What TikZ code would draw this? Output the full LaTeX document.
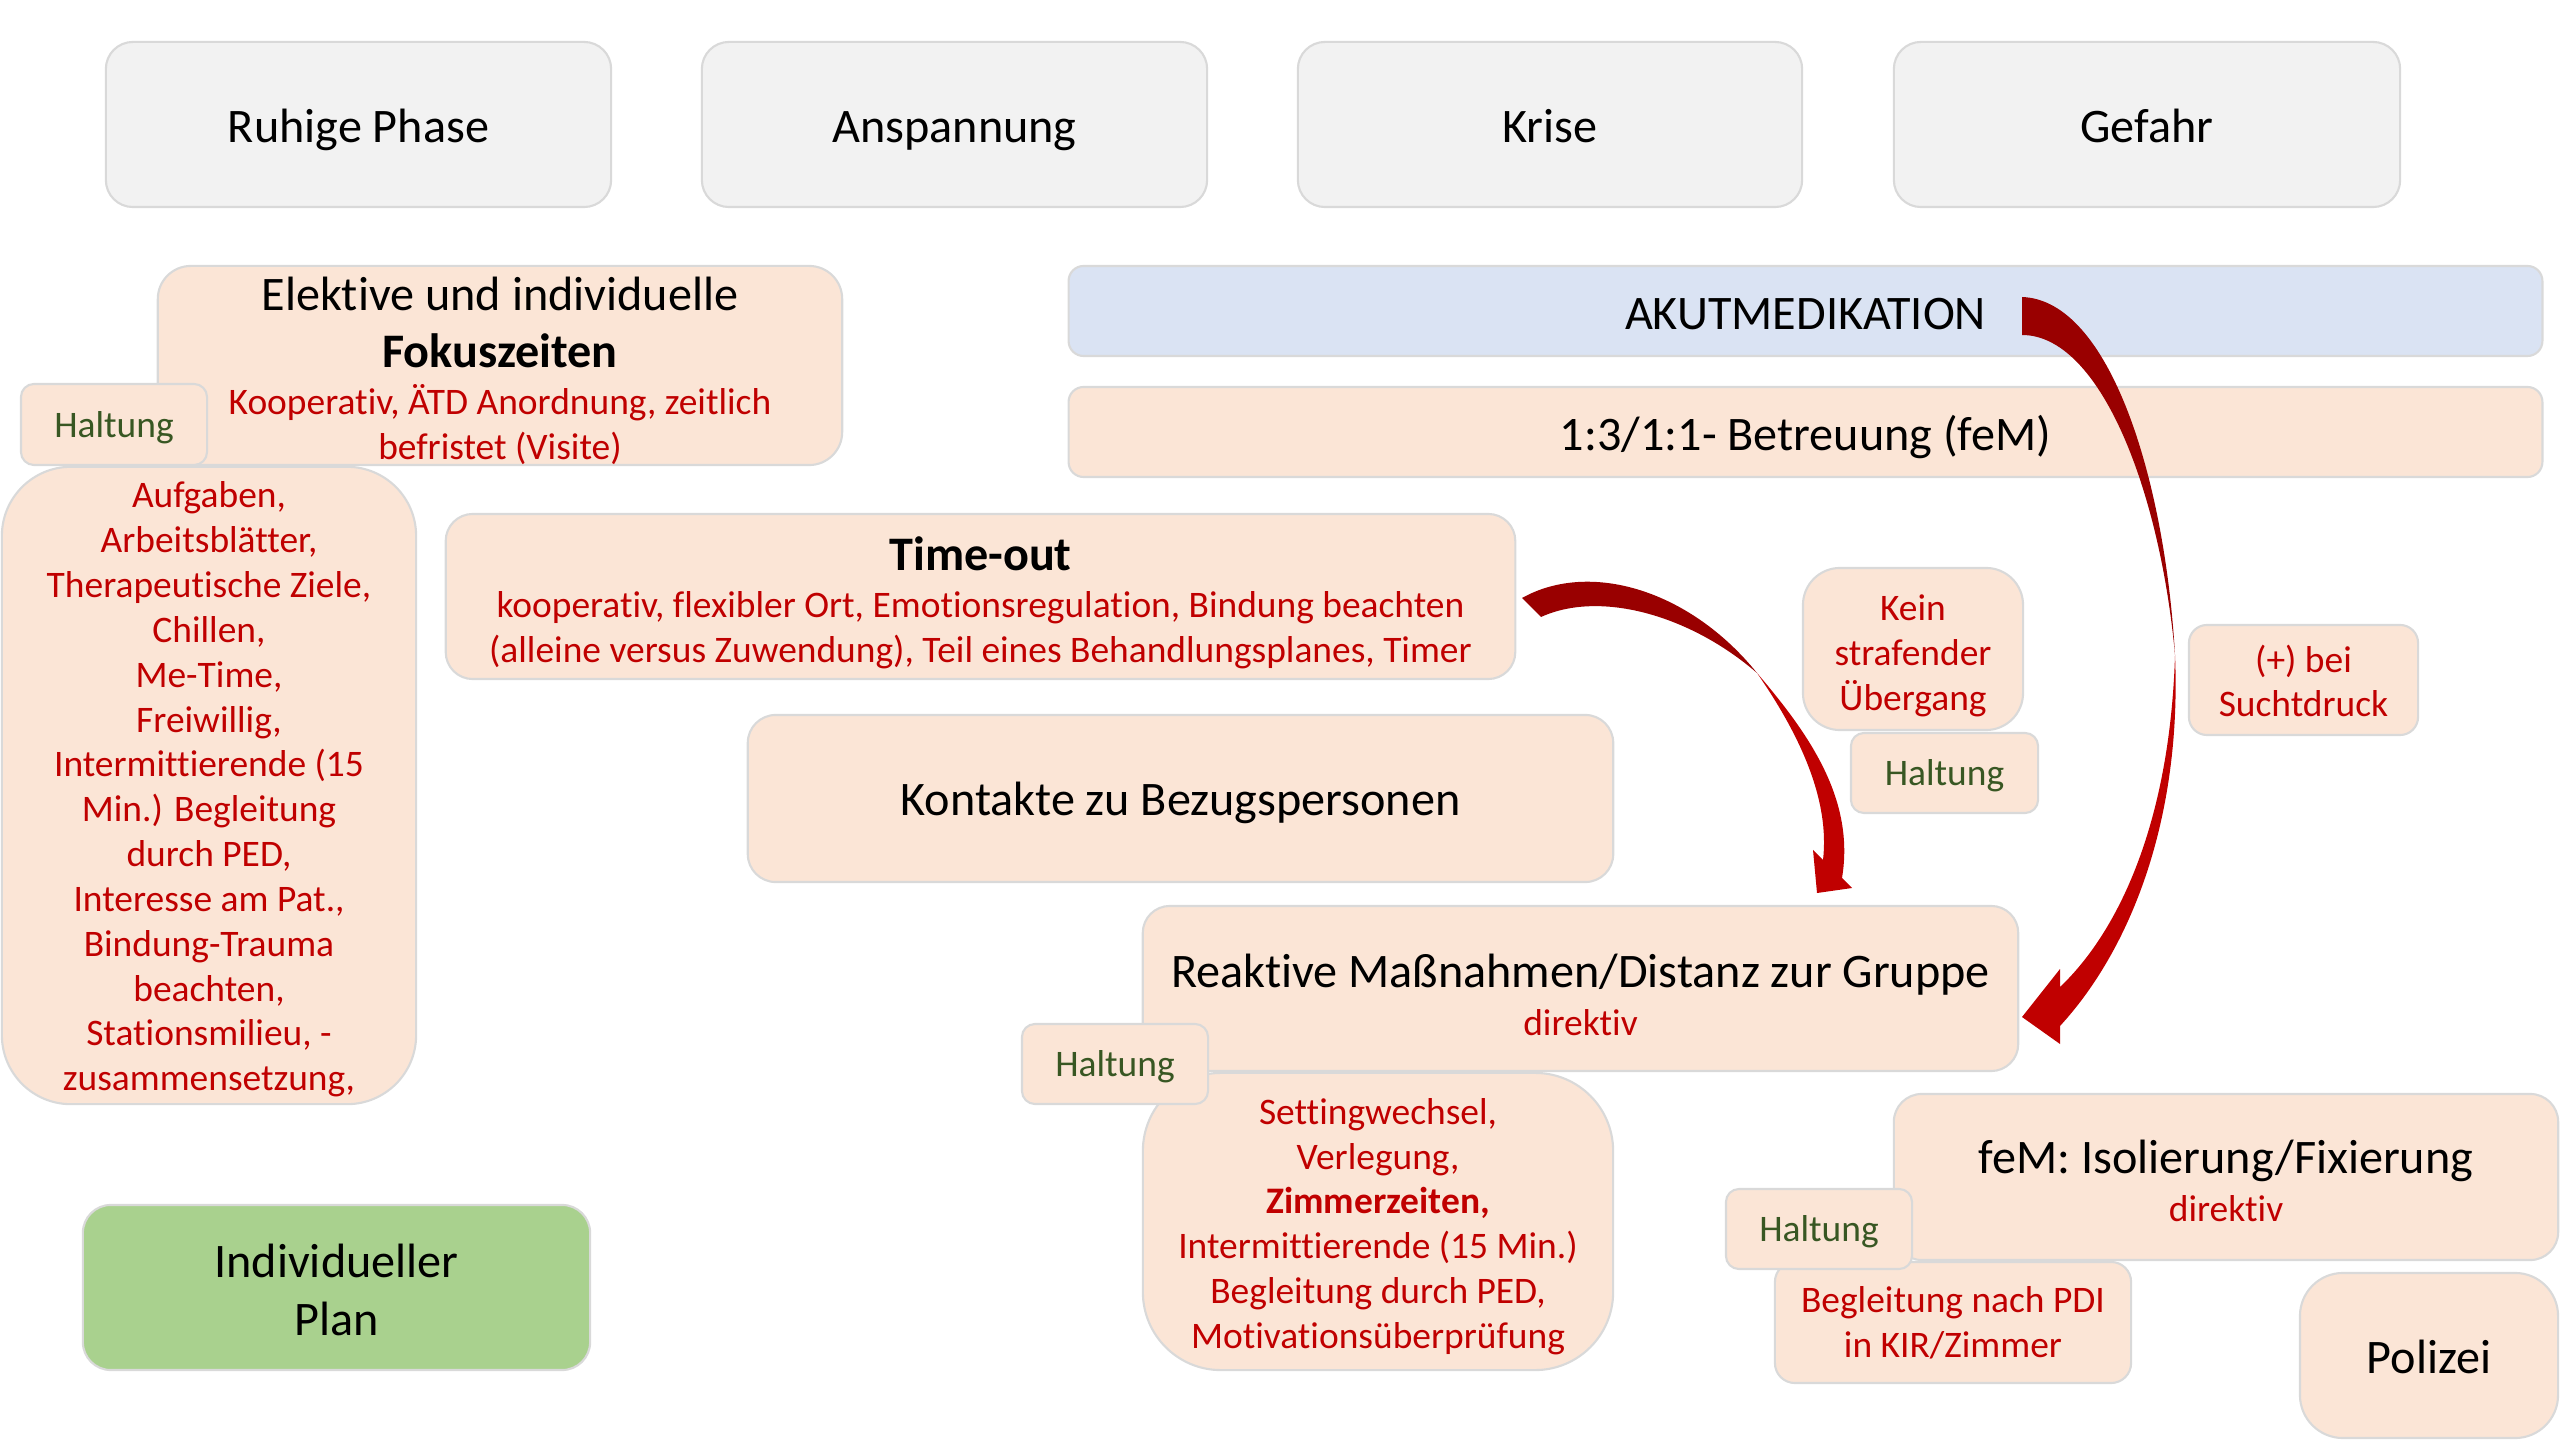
\documentclass[tikz,border=0pt]{standalone}
\usepackage{fontspec}
\setmainfont{Carlito}[Ligatures=NoCommon]
\definecolor{peach}{HTML}{FBE5D6}
\definecolor{grayfill}{HTML}{F2F2F2}
\definecolor{bord}{HTML}{D9D9D9}
\definecolor{bluefill}{HTML}{DAE3F3}
\definecolor{greenfill}{HTML}{A9D18E}
\definecolor{redtxt}{HTML}{C00000}
\definecolor{greentxt}{HTML}{385723}
\definecolor{arrdark}{HTML}{990000}
\definecolor{arrred}{HTML}{C00000}
\newcommand\Lg{\fontsize{13.7}{16.3}\selectfont}
\newcommand\Sm{\fontsize{10.65}{12.75}\selectfont}
% box node (name) plus its text node (name-t), text shifted down by #8 px
\newcommand\pbox[9]{%
  \pgfmathsetmacro\pcx{(#2+#4)/2}%
  \pgfmathsetmacro\pcy{(#3+#5)/2}%
  \pgfmathsetmacro\pw{(#4-#2)/100}%
  \pgfmathsetmacro\ph{(#5-#3)/100}%
  \node[#6, minimum width=\pw cm, minimum height=\ph cm] (#1) at (\pcx,\pcy) {};
  \node[inner sep=0pt, align=center, #7] (#1-t) at ([yshift=-#8*0.01cm]#1.center) {#9};}
\tikzset{
  basebox/.style={draw=bord, line width=0.6pt, inner sep=0pt},
  phase/.style={basebox, fill=grayfill, rounded corners=0.27cm},
  peachbox/.style={basebox, fill=peach},
  bluebox/.style={basebox, fill=bluefill},
  greenbox/.style={basebox, fill=greenfill},
  lgone/.style={font=\Lg, text height=10.3pt, text depth=3.4pt},
  lgtxt/.style={font=\Lg},
  mixtxt/.style={font=\Sm},
  redsm/.style={font=\Sm, text=redtxt},
  haltbox/.style={basebox, fill=peach, rounded corners=0.13cm},
  halttxt/.style={font=\Sm, text=greentxt, text height=8pt, text depth=2.7pt},
}
\begin{document}
\begin{tikzpicture}[x=0.01cm, y=-0.01cm]
\useasboundingbox (0,0) rectangle (2560,1440);
% phase headers
\pbox{ruhig}{106}{42}{611}{207}{phase}{lgone}{6}{Ruhige Phase}
\pbox{ansp}{702}{42}{1207}{207}{phase}{lgone}{6}{Anspannung}
\pbox{krise}{1298}{42}{1802}{207}{phase}{lgone}{6}{Krise}
\pbox{gefahr}{1894}{42}{2400}{207}{phase}{lgone}{6}{Gefahr}
% left column
\pbox{elektive}{158}{266}{842}{465}{peachbox, rounded corners=0.33cm}{mixtxt}{5}{%
  {\Lg Elektive und individuelle}\\[3.45pt]
  {\Lg\bfseries Fokuszeiten}\\[0.65pt]
  \textcolor{redtxt}{Kooperativ, ÄTD Anordnung, zeitlich}\\
  \textcolor{redtxt}{befristet (Visite)}}
\pbox{aufgaben}{2}{467}{416}{1104}{peachbox, rounded corners=0.69cm}{redsm}{4}{%
  Aufgaben,\\ Arbeitsblätter,\\ Therapeutische Ziele,\\ Chillen,\\ Me-Time,\\
  Freiwillig,\\ Intermittierende (15\\ Min.) Begleitung\\ durch PED,\\
  Interesse am Pat.,\\ Bindung-Trauma\\ beachten,\\ Stationsmilieu, -\\ zusammensetzung,}
\pbox{indiv}{83}{1205}{590}{1370}{greenbox, rounded corners=0.28cm}{lgtxt}{2.5}{Individueller\\ Plan}
% middle / right
\pbox{akut}{1069}{266}{2542}{356}{bluebox, rounded corners=0.15cm}{lgone}{6}{AKUTMEDIKATION}
\pbox{betreu}{1069}{387}{2542}{477}{peachbox, rounded corners=0.15cm}{lgone}{6}{1:3/1:1- Betreuung (feM)}
\pbox{timeout}{446}{514}{1515}{679}{peachbox, rounded corners=0.27cm}{mixtxt}{6.5}{%
  {\Lg\bfseries Time-out}\\[0.65pt]
  \textcolor{redtxt}{kooperativ, flexibler Ort, Emotionsregulation, Bindung beachten}\\
  \textcolor{redtxt}{(alleine versus Zuwendung), Teil eines Behandlungsplanes, Timer}}
\pbox{kontakte}{748}{715}{1613}{882}{peachbox, rounded corners=0.28cm}{lgone}{5}{Kontakte zu Bezugspersonen}
\pbox{kein}{1803}{568}{2023}{730}{peachbox, rounded corners=0.37cm}{redsm}{7}{Kein\\ strafender\\ Übergang}
\pbox{sucht}{2189}{625}{2418}{735}{peachbox, rounded corners=0.18cm}{redsm}{1}{(+) bei\\ Suchtdruck}
\pbox{reaktiv}{1143}{906}{2018}{1071}{peachbox, rounded corners=0.27cm}{mixtxt}{6}{%
  {\Lg Reaktive Maßnahmen/Distanz zur Gruppe}\\[0.9pt]
  \textcolor{redtxt}{direktiv}}
\pbox{setting}{1143}{1073}{1613}{1370}{peachbox, rounded corners=0.78cm}{redsm}{5}{%
  Settingwechsel,\\ Verlegung,\\ \textbf{Zimmerzeiten,}\\ Intermittierende (15 Min.)\\
  Begleitung durch PED,\\ Motivationsüberprüfung}
\pbox{fem}{1894}{1094}{2558}{1260}{peachbox, rounded corners=0.28cm}{mixtxt}{4}{%
  {\Lg feM: Isolierung/Fixierung}\\[0.9pt]
  \textcolor{redtxt}{direktiv}}
\pbox{beglpdi}{1775}{1262}{2131}{1383}{peachbox, rounded corners=0.2cm}{redsm}{0}{Begleitung nach PDI\\ in KIR/Zimmer}
\pbox{polizei}{2300}{1273}{2558}{1438}{peachbox, rounded corners=0.43cm}{lgone}{6}{Polizei}
% Haltung labels (on top)
\pbox{halt1}{21}{384}{207}{465}{haltbox}{halttxt}{3.5}{Haltung}
\pbox{halt2}{1851}{733}{2038}{813}{haltbox}{halttxt}{3.5}{Haltung}
\pbox{halt3}{1022}{1024}{1208}{1104}{haltbox}{halttxt}{3.5}{Haltung}
\pbox{halt4}{1726}{1189}{1912}{1269}{haltbox}{halttxt}{3.5}{Haltung}
% curved arrow: AKUTMEDIKATION -> Reaktive Massnahmen
\coordinate (a1tip) at (2022,1017);
\fill[arrdark] (2022,297) .. controls (2110,300) and (2165,480) .. (2175,655)
  .. controls (2160,490) and (2100,335) .. (2022,335) -- cycle;
\fill[arrred] (2175,655) .. controls (2182,820) and (2130,950) .. (2060,1026)
  -- (2060,1044) -- (a1tip) -- (2060,969) -- (2060,987)
  .. controls (2120,930) and (2170,820) .. (2175,655) -- cycle;
% curved arrow: Time-out -> Reaktive Massnahmen
\coordinate (a2tip) at (1817,893);
\fill[arrdark] (1522,598) .. controls (1590,560) and (1690,590) .. (1757,673)
  .. controls (1690,615) and (1600,590) .. (1541,617) -- cycle;
\fill[arrred] (1757,673) .. controls (1810,735) and (1855,800) .. (1842,878)
  -- (1852,888) -- (a2tip) -- (1813,850) -- (1823,860)
  .. controls (1830,800) and (1800,735) .. (1757,673) -- cycle;
\end{tikzpicture}
\end{document}
